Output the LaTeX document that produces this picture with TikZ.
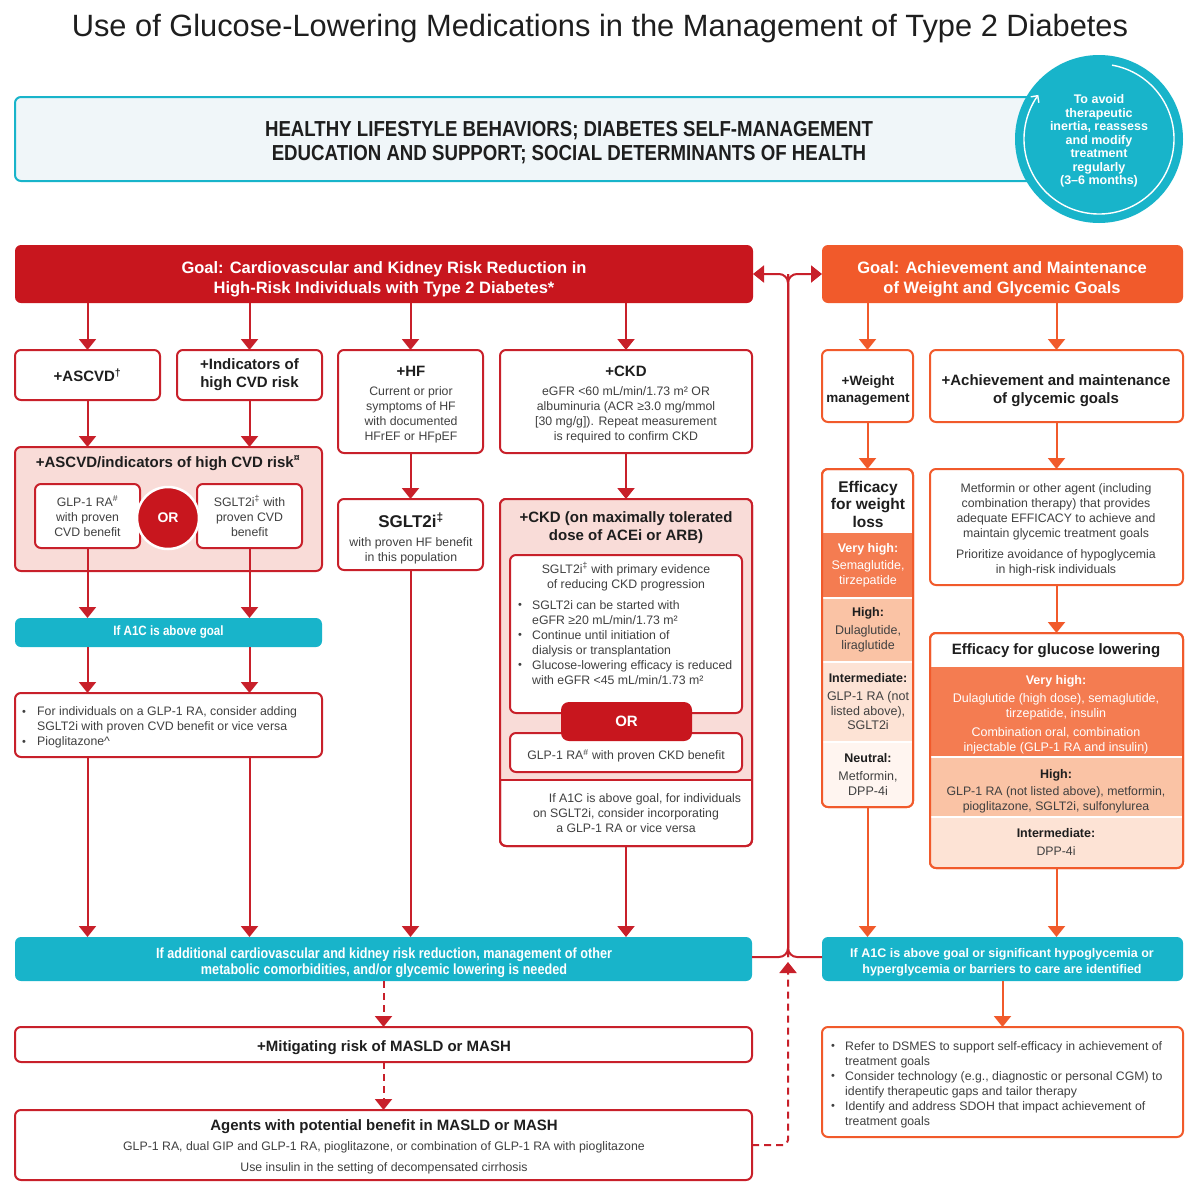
\documentclass[tikz,border=0pt]{standalone}
\usepackage{fontspec}
\setmainfont{Liberation Sans}
\newfontfamily\cond[FakeStretch=0.86]{Liberation Sans}
\usetikzlibrary{arrows.meta,calc}
\definecolor{dred}{HTML}{C8161E}
\definecolor{bred}{HTML}{C8202A}
\definecolor{pinkf}{HTML}{F9DCD8}
\definecolor{orng}{HTML}{F15A2B}
\definecolor{vho}{HTML}{F47C51}
\definecolor{hio}{HTML}{FAC3A5}
\definecolor{into}{HTML}{FDE3D5}
\definecolor{neuo}{HTML}{FFF5F0}
\definecolor{cyn}{HTML}{18B4CA}
\definecolor{topf}{HTML}{F0F6F9}
\definecolor{txa}{HTML}{1E1E1E}
\definecolor{txb}{HTML}{404040}
\newcommand\bu{\raisebox{0.5pt}{\fontsize{11}{11}\selectfont\textbullet}}
\begin{document}
\begin{tikzpicture}[x=1pt,y=-1pt,
  rb/.style={draw=bred, line width=2pt, rounded corners=6pt, fill=white, anchor=north west, inner sep=0pt, outer sep=0pt},
  ob/.style={rb, draw=orng},
  arr/.style={draw=bred, line width=2pt, -{Triangle[width=17pt,length=11pt]}},
  oarr/.style={arr, draw=orng},
  darr/.style={arr, dash pattern=on 7pt off 5pt},
  tx/.style={font=\fontsize{12.3}{15}\selectfont, text=txb, align=center, inner sep=0pt},
  hd/.style={font=\fontsize{15}{18}\selectfont\bfseries, text=txa, align=center, inner sep=0pt},
  wb/.style={font=\cond\fontsize{14.7}{15.5}\selectfont\bfseries, text=white, align=center, inner sep=0pt},
  gt/.style={font=\fontsize{16.5}{20}\selectfont\bfseries, text=white, align=center, inner sep=0pt},
  lab/.style={font=\fontsize{12.5}{15}\selectfont\bfseries, text=txa, inner sep=0pt},
  wtx/.style={tx, text=white, font=\fontsize{12.5}{15}\selectfont},
]
\useasboundingbox (0,0) rectangle (1200,1189);
\fill[white] (0,0) rectangle (1200,1189);

\node[font=\fontsize{30.8}{34}\selectfont, text=txa, inner sep=0pt] (title) at (600,29) {Use of Glucose-Lowering Medications in the Management of Type 2 Diabetes};

% top band
\node[rb, draw=cyn, fill=topf, minimum width=1040pt, minimum height=84pt] (life) at (15,97) {};
\node[font=\cond\fontsize{21.7}{24}\selectfont\bfseries, text=txa, align=center, inner sep=0pt] (lifet) at (569,143) {HEALTHY LIFESTYLE BEHAVIORS; DIABETES SELF-MANAGEMENT\\EDUCATION AND SUPPORT; SOCIAL DETERMINANTS OF HEALTH};
\node[circle, fill=cyn, minimum size=168pt, inner sep=0pt] (circ) at (1099,139) {};
\draw[white, line width=1.4pt, -{Straight Barb[length=5pt,width=10pt]}] ($(circ.center)+(80:75pt)$) arc[start angle=80, end angle=-216, radius=75pt];
\node[font=\fontsize{12.5}{13.5}\selectfont\bfseries, text=white, align=center, inner sep=0pt] (circt) at (1099,141) {To avoid\\therapeutic\\inertia, reassess\\and modify\\treatment\\regularly\\(3–6 months)};

% goals
\node[rb, draw=none, fill=dred, minimum width=738pt, minimum height=58pt] (goalL) at (15,245) {};
\node[gt] (goalLt) at (384,279) {Goal: Cardiovascular and Kidney Risk Reduction in\\High-Risk Individuals with Type 2 Diabetes*};
\node[rb, draw=none, fill=orng, minimum width=361pt, minimum height=58pt] (goalR) at (822,245) {};
\node[gt] (goalRt) at (1002,279) {Goal: Achievement and Maintenance\\of Weight and Glycemic Goals};

% central connectors
\coordinate (jt) at (788,274);
\coordinate (jb) at (788,957);
\coordinate (dc) at (788,1145);
\coordinate (dtip) at (788,962);

% row 1 left
\node[rb, minimum width=145pt, minimum height=50pt, hd] (ascvd) at (15,350) {+ASCVD\textsuperscript{†}};
\node[rb, minimum width=145pt, minimum height=50pt, hd] (ind) at (177,350) {+Indicators of\\high CVD risk};
\node[rb, minimum width=145pt, minimum height=103pt] (hf) at (338,350) {};
\node[hd] (hft) at (411,371) {+HF};
\node[tx] (hfb) at (411,414.5) {Current or prior\\symptoms of HF\\with documented\\HFrEF or HFpEF};
\node[rb, minimum width=252pt, minimum height=103pt] (ckd) at (500,350) {};
\node[hd] (ckdt) at (626,371) {+CKD};
\node[tx] (ckdb) at (626,414.5) {eGFR <60 mL/min/1.73 m² OR\\albuminuria (ACR ≥3.0 mg/mmol\\{[}30 mg/g{]}). Repeat measurement\\is required to confirm CKD};

\draw[arr] (goalL.south -| ascvd.north) -- (ascvd.north);
\draw[arr] (goalL.south -| ind.north) -- (ind.north);
\draw[arr] (goalL.south -| hf.north) -- (hf.north);
\draw[arr] (goalL.south -| ckd.north) -- (ckd.north);

% ASCVD pink
\node[rb, fill=pinkf, minimum width=307pt, minimum height=124pt] (pinkL) at (15,447) {};
\node[hd] (pinkLt) at (168,463) {+ASCVD/indicators of high CVD risk\textsuperscript{¤}};
\node[rb, minimum width=105pt, minimum height=64pt, tx] (glp) at (35,484) {GLP-1 RA\textsuperscript{\#}\\with proven\\CVD benefit};
\node[rb, minimum width=105pt, minimum height=64pt, tx] (sgl) at (197,484) {SGLT2i\textsuperscript{‡} with\\proven CVD\\benefit};
\node[circle, fill=dred, draw=white, line width=2.5pt, minimum size=62pt, inner sep=0pt, font=\fontsize{14}{16}\selectfont\bfseries, text=white] (orL) at (168,518) {OR};
\draw[arr] (ascvd.south) -- (ascvd.south |- pinkL.north);
\draw[arr] (ind.south) -- (ind.south |- pinkL.north);

\node[rb, draw=none, fill=cyn, minimum width=307pt, minimum height=29pt, wb, font=\cond\fontsize{13.5}{14}\selectfont\bfseries] (a1c) at (15,618) {If A1C is above goal};
\draw[arr] (glp.south) -- (glp.south |- a1c.north);
\draw[arr] (sgl.south) -- (sgl.south |- a1c.north);
\node[rb, minimum width=307pt, minimum height=64pt] (bulL) at (15,693) {};
\draw[arr] (a1c.south -| glp.south) -- (bulL.north -| glp.south);
\draw[arr] (a1c.south -| sgl.south) -- (bulL.north -| sgl.south);
\node[tx, anchor=west] (bulLt) at (22,727.5) {\begin{tabular}{@{}p{15pt}@{}l@{}}\bu & For individuals on a GLP-1 RA, consider adding\\ & SGLT2i with proven CVD benefit or vice versa\\ \bu & Pioglitazone\textasciicircum\end{tabular}};

% HF
\node[rb, minimum width=145pt, minimum height=71pt] (hfs) at (338,499) {};
\node[font=\fontsize{17}{20}\selectfont\bfseries, text=txa, inner sep=0pt] (hfst) at (411,520) {SGLT2i\textsuperscript{‡}};
\node[tx] (hfsb) at (411,550.5) {with proven HF benefit\\in this population};
\draw[arr] (hf.south) -- (hfs.north);

% CKD big
\node[rb, minimum width=252pt, minimum height=347pt] (ckd2) at (500,499) {};
\coordinate (ckdsep) at (626,780);
\begin{scope}
\clip[rounded corners=6pt] (ckd2.north west) rectangle (ckd2.south east);
\fill[pinkf] (ckd2.north west) rectangle (ckd2.east |- ckdsep);
\end{scope}
\draw[bred, line width=2pt, rounded corners=6pt] (ckd2.north west) rectangle (ckd2.south east);
\draw[bred, line width=2pt] (ckd2.west |- ckdsep) -- (ckd2.east |- ckdsep);
\node[hd] (ckd2t) at (626,528) {+CKD (on maximally tolerated\\dose of ACEi or ARB)};
\node[rb, minimum width=232pt, minimum height=158pt] (ckdA) at (510,555) {};
\node[tx] (ckdAt) at (626,576.5) {SGLT2i\textsuperscript{‡} with primary evidence\\of reducing CKD progression};
\node[tx, anchor=west] (ckdAb) at (518,643.5) {\begin{tabular}{@{}p{14pt}@{}l@{}}\bu & SGLT2i can be started with\\ & eGFR ≥20 mL/min/1.73 m²\\ \bu & Continue until initiation of\\ & dialysis or transplantation\\ \bu & Glucose-lowering efficacy is reduced\\ & with eGFR <45 mL/min/1.73 m²\end{tabular}};
\node[rb, minimum width=232pt, minimum height=39pt] (ckdB) at (510,733) {};
\node[tx] (ckdBt) at (626,756) {GLP-1 RA\textsuperscript{\#} with proven CKD benefit};
\node[rb, draw=none, fill=dred, rounded corners=8pt, minimum width=131pt, minimum height=39pt, font=\fontsize{15}{17}\selectfont\bfseries, text=white] (orC) at (561,702) {OR};
\node[tx] (ckd2b) at (626,813.5) {\hspace*{38pt}If A1C is above goal, for individuals\\on SGLT2i, consider incorporating\\a GLP-1 RA or vice versa};
\draw[arr] (ckd.south) -- (ckd2.north);

% bottom left
\node[rb, draw=none, fill=cyn, minimum width=737pt, minimum height=44pt] (cyL) at (15,937) {};
\node[wb] (cyLt) at (384,962.5) {If additional cardiovascular and kidney risk reduction, management of other\\metabolic comorbidities, and/or glycemic lowering is needed};
\draw[arr] (bulL.south -| glp.south) -- (cyL.north -| glp.south);
\draw[arr] (bulL.south -| sgl.south) -- (cyL.north -| sgl.south);
\draw[arr] (hfs.south) -- (hfs.south |- cyL.north);
\draw[arr] (ckd2.south) -- (ckd2.south |- cyL.north);
\node[rb, minimum width=737pt, minimum height=35pt] (masld) at (15,1027) {};
\node[hd] (masldt) at (384,1048) {+Mitigating risk of MASLD or MASH};
\node[rb, minimum width=737pt, minimum height=70pt] (agents) at (15,1110) {};
\node[hd] (agt) at (384,1127) {Agents with potential benefit in MASLD or MASH};
\node[tx] (ag1) at (384,1147) {GLP-1 RA, dual GIP and GLP-1 RA, pioglitazone, or combination of GLP-1 RA with pioglitazone};
\node[tx] (ag2) at (384,1168) {Use insulin in the setting of decompensated cirrhosis};
\draw[darr] (cyL.south) -- (masld.north);
\draw[darr] (masld.south) -- (agents.north);

% right column
\node[ob, minimum width=91pt, minimum height=72pt] (wt) at (822,350) {};
\node[font=\fontsize{13.5}{17}\selectfont\bfseries, text=txa, align=center, inner sep=0pt] (wtt) at (868,391) {+Weight\\management};
\node[ob, minimum width=253pt, minimum height=72pt] (ach) at (930,350) {};
\node[hd] (acht) at (1056,390.5) {+Achievement and maintenance\\of glycemic goals};
\draw[oarr] (goalR.south -| wt.north) -- (wt.north);
\draw[oarr] (goalR.south -| ach.north) -- (ach.north);

% weight efficacy
\node[ob, minimum width=91pt, minimum height=338pt] (effW) at (822,469) {};
\begin{scope}
\clip[rounded corners=6pt] (effW.north west) rectangle (effW.south east);
\fill[vho] (822,533) rectangle (913,598);
\fill[hio] (822,598) rectangle (913,662);
\fill[into] (822,662) rectangle (913,742);
\fill[neuo] (822,742) rectangle (913,807);
\draw[white, line width=1.5pt] (822,598) -- (913,598) (822,662) -- (913,662) (822,742) -- (913,742);
\end{scope}
\draw[orng, line width=2pt, rounded corners=6pt] (effW.north west) rectangle (effW.south east);
\node[font=\fontsize{15.5}{17.5}\selectfont\bfseries, text=txa, align=center, inner sep=0pt] (effWt) at (868,504) {Efficacy\\for weight\\loss};
\node[lab, text=white] (w1a) at (868,549) {Very high:};
\node[wtx, font=\fontsize{12.5}{14.5}\selectfont] (w1b) at (868,574) {Semaglutide,\\tirzepatide};
\node[lab] (w2a) at (868,613) {High:};
\node[tx, font=\fontsize{12.5}{14.5}\selectfont] (w2b) at (868,639) {Dulaglutide,\\liraglutide};
\node[lab] (w3a) at (868,678) {Intermediate:};
\node[tx, font=\fontsize{12.5}{14.5}\selectfont] (w3b) at (868,711) {GLP-1 RA (not\\listed above),\\SGLT2i};
\node[lab] (w4a) at (868,758) {Neutral:};
\node[tx, font=\fontsize{12.5}{14.5}\selectfont] (w4b) at (868,783.5) {Metformin,\\DPP-4i};
\draw[oarr] (wt.south) -- (effW.north);

% metformin
\node[ob, minimum width=253pt, minimum height=116pt] (met) at (930,469) {};
\node[tx] (metA) at (1056,511.5) {Metformin or other agent (including\\combination therapy) that provides\\adequate EFFICACY to achieve and\\maintain glycemic treatment goals};
\node[tx] (metB) at (1056,563) {Prioritize avoidance of hypoglycemia\\in high-risk individuals};
\draw[oarr] (ach.south) -- (met.north);

% glucose efficacy
\node[ob, minimum width=253pt, minimum height=235pt] (effG) at (930,633) {};
\begin{scope}
\clip[rounded corners=6pt] (effG.north west) rectangle (effG.south east);
\fill[vho] (930,667) rectangle (1183,757);
\fill[hio] (930,757) rectangle (1183,817);
\fill[into] (930,817) rectangle (1183,868);
\draw[white, line width=1.5pt] (930,757) -- (1183,757) (930,817) -- (1183,817);
\end{scope}
\draw[orng, line width=2pt, rounded corners=6pt] (effG.north west) rectangle (effG.south east);
\node[hd] (effGt) at (1056,651) {Efficacy for glucose lowering};
\node[lab, text=white] (g1a) at (1056,681) {Very high:};
\node[wtx] (g1b) at (1056,706.5) {Dulaglutide (high dose), semaglutide,\\tirzepatide, insulin};
\node[wtx] (g1c) at (1056,740.5) {Combination oral, combination\\injectable (GLP-1 RA and insulin)};
\node[lab] (g2a) at (1056,775) {High:};
\node[tx] (g2b) at (1056,799.5) {GLP-1 RA (not listed above), metformin,\\pioglitazone, SGLT2i, sulfonylurea};
\node[lab] (g3a) at (1056,833) {Intermediate:};
\node[tx] (g3b) at (1056,851) {DPP-4i};
\draw[oarr] (met.south) -- (effG.north);

% bottom right
\node[rb, draw=none, fill=cyn, minimum width=361pt, minimum height=44pt] (cyR) at (822,937) {};
\node[font=\fontsize{12.5}{15.5}\selectfont\bfseries, text=white, align=center, inner sep=0pt] (cyRt) at (1002,962.5) {If A1C is above goal or significant hypoglycemia or\\hyperglycemia or barriers to care are identified};
\draw[oarr] (effW.south) -- (effW.south |- cyR.north);
\draw[oarr] (effG.south) -- (effG.south |- cyR.north);
\node[ob, minimum width=361pt, minimum height=110pt] (bulR) at (822,1027) {};
\node[tx, anchor=west] (bulRt) at (831,1084.5) {\begin{tabular}{@{}p{14pt}@{}l@{}}\bu & Refer to DSMES to support self-efficacy in achievement of\\ & treatment goals\\ \bu & Consider technology (e.g., diagnostic or personal CGM) to\\ & identify therapeutic gaps and tailor therapy\\ \bu & Identify and address SDOH that impact achievement of\\ & treatment goals\end{tabular}};
\draw[oarr] (cyR.south) -- (bulR.north);

% central junctions
\draw[arr, rounded corners=9pt] (jb) -- (jt) -- (goalL.east |- jt);
\draw[arr, rounded corners=9pt] (jb) -- (jt) -- (goalR.west |- jt);
\draw[bred, line width=2pt, rounded corners=9pt] (cyL.east |- jb) -- (jb) -- (jt);
\draw[bred, line width=2pt, rounded corners=9pt] (cyR.west |- jb) -- (jb) -- (jt);
\draw[darr, rounded corners=5pt] (agents.east) -- (dc) -- (dtip);
\end{tikzpicture}
\end{document}
